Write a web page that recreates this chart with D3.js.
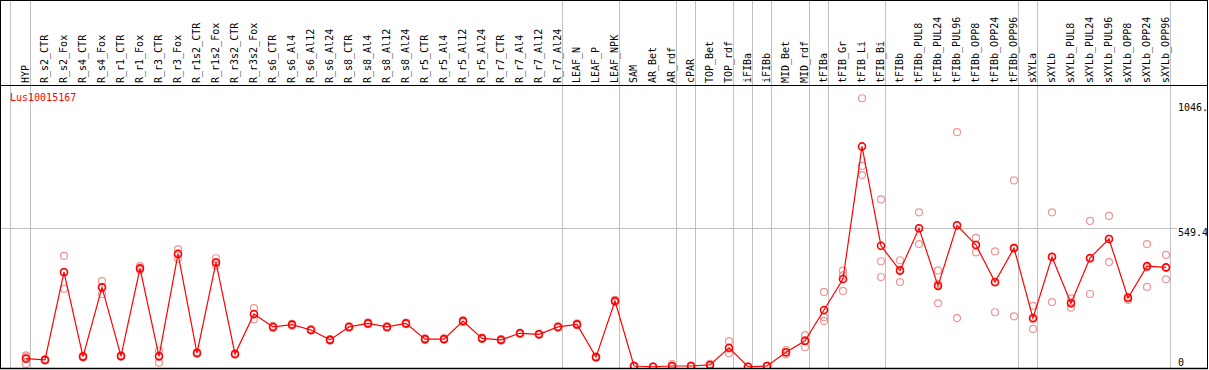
<!DOCTYPE html>
<html>
<head>
<meta charset="utf-8">
<script src="https://cdn.jsdelivr.net/npm/d3@7"></script>
<style>
html, body { margin: 0; padding: 0; background: #fff; }
svg { display: block; }
text { font-family: "DejaVu Sans Mono", "Liberation Mono", monospace; font-size: 10px; }
</style>
</head>
<body>
<svg id="chart" width="1209" height="370"></svg>
<script>
const geneName = "Lus10015167";
const categories = ["HYP","R_s2_CTR","R_s2_Fox","R_s4_CTR","R_s4_Fox","R_r1_CTR","R_r1_Fox","R_r3_CTR","R_r3_Fox","R_r1s2_CTR","R_r1s2_Fox","R_r3s2_CTR","R_r3s2_Fox","R_s6_CTR","R_s6_Al4","R_s6_Al12","R_s6_Al24","R_s8_CTR","R_s8_Al4","R_s8_Al12","R_s8_Al24","R_r5_CTR","R_r5_Al4","R_r5_Al12","R_r5_Al24","R_r7_CTR","R_r7_Al4","R_r7_Al12","R_r7_Al24","LEAF_N","LEAF_P","LEAF_NPK","SAM","AR_Bet","AR_rdf","cPAR","TOP_Bet","TOP_rdf","iFIBa","iFIBb","MID_Bet","MID_rdf","tFIBa","tFIB_Gr","tFIB_Li","tFIB_Bi","tFIBb","tFIBb_PUL8","tFIBb_PUL24","tFIBb_PUL96","tFIBb_OPP8","tFIBb_OPP24","tFIBb_OPP96","sXYLa","sXYLb","sXYLb_PUL8","sXYLb_PUL24","sXYLb_PUL96","sXYLb_OPP8","sXYLb_OPP24","sXYLb_OPP96"];
const meanValues = [33,28,374,41,314,43,389,42,446,55,413,51,209,158,167,146,107,158,172,158,172,110,110,181,113,107,133,129,158,168,39,260,4,1,4,4,8,76,1,4,58,103,225,347,870,478,380,547,320,559,481,335,469,193,434,252,430,505,272,398,393];
const rep1 = [41,30,438,44,339,46,398,64,464,59,429,54,232,162,170,149,110,161,176,161,175,113,113,185,116,110,136,132,161,172,42,265,6,2,11,6,12,102,2,6,67,126,296,380,1060,661,421,610,381,926,509,456,736,241,610,271,576,596,277,485,442];
const rep2 = [12,26,309,37,287,41,383,17,427,52,401,49,188,154,163,143,104,155,169,155,169,107,108,178,110,104,130,126,155,165,36,256,2,0,0,2,5,54,0,2,50,78,196,300,793,417,335,485,251,193,452,216,200,150,256,234,288,414,264,316,346];
const rep3 = [46,28,375,42,316,42,386,45,447,54,409,50,207,158,168,146,107,158,171,158,172,110,109,180,113,107,133,129,158,167,39,259,4,1,1,4,7,72,1,4,57,105,181,361,757,355,384,546,328,558,482,333,471,188,436,251,426,505,275,393,391];
const groupEnds = ["HYP","R_r7_Al24","LEAF_NPK","AR_rdf","cPAR","TOP_rdf","iFIBa","iFIBb","MID_rdf","tFIBa","tFIB_Bi","tFIBb_OPP96","sXYLa","sXYLb_OPP96"];
const yTickValues = [1046, 549.4, 0];
const yTickLabels = ["1046.", "549.4", "0"];

const W = 1209, H = 370;
const headerBottom = 85, plotBottom = 368, rightEdge = 1207;
const svg = d3.select("#chart");

const x = d3.scalePoint().domain(categories).range([26, 1166]);
const step = x.step();
const y = d3.scaleLinear().domain([0, 1046]).range([367, 101.8]);

// separator lines
const sepXs = [x(categories[0]) - step + 3.5].concat(groupEnds.map(c => x(c) + 4.5));
svg.append("g").selectAll("line").data(sepXs).join("line")
  .attr("x1", d => d).attr("x2", d => d)
  .attr("y1", 0).attr("y2", plotBottom)
  .attr("stroke", "#c0c0c0").attr("stroke-width", 1);

// horizontal reference line at middle tick
svg.append("line")
  .attr("x1", 0).attr("x2", 1177)
  .attr("y1", Math.round(y(549.4)) + 0.5).attr("y2", Math.round(y(549.4)) + 0.5)
  .attr("stroke", "#c0c0c0").attr("stroke-width", 1);

// header labels
svg.append("g").selectAll("text").data(categories).join("text")
  .attr("transform", d => `translate(${x(d) + 3},83) rotate(-90)`)
  .attr("text-anchor", "start")
  .attr("fill", "#000")
  .text(d => d);

// gene name
svg.append("text").attr("x", 10).attr("y", 101).attr("fill", "#ff0000").text(geneName);

// right axis tick labels
const tickTop = [y(1046) + 1.5, y(549.4) + 0.6, 359];
svg.append("g").selectAll("text").data(yTickValues).join("text")
  .attr("x", 1178)
  .attr("y", (d, i) => tickTop[i])
  .attr("dy", "0.73em")
  .attr("fill", "#000")
  .text((d, i) => yTickLabels[i]);

// clip for plot
svg.append("clipPath").attr("id", "plotClip").append("rect")
  .attr("x", 1).attr("y", headerBottom + 1).attr("width", rightEdge - 1).attr("height", plotBottom - headerBottom - 1);

const plot = svg.append("g").attr("clip-path", "url(#plotClip)");

// replicate circles
const reps = [];
categories.forEach((c, i) => { [rep1, rep2, rep3].forEach(r => reps.push({c, v: r[i]})); });
plot.append("g").selectAll("circle").data(reps).join("circle")
  .attr("cx", d => x(d.c)).attr("cy", d => y(d.v)).attr("r", 3.5)
  .attr("fill", "none").attr("stroke", "#ef9595").attr("stroke-width", 1.2);

// mean line
const meanData = categories.map((c, i) => ({c, v: meanValues[i]}));
plot.append("path").datum(meanData)
  .attr("d", d3.line().x(d => x(d.c)).y(d => y(d.v)))
  .attr("fill", "none").attr("stroke", "#ff0000").attr("stroke-width", 1.2);

plot.append("g").selectAll("circle").data(meanData).join("circle")
  .attr("cx", d => x(d.c)).attr("cy", d => y(d.v)).attr("r", 3.5)
  .attr("fill", "none").attr("stroke", "#ff0000").attr("stroke-width", 1.6);

// borders
svg.append("line").attr("x1", 0).attr("x2", rightEdge + 1).attr("y1", 0.5).attr("y2", 0.5).attr("stroke", "#000");
svg.append("line").attr("x1", 0).attr("x2", rightEdge + 1).attr("y1", headerBottom + 0.5).attr("y2", headerBottom + 0.5).attr("stroke", "#000");
svg.append("line").attr("x1", 0).attr("x2", rightEdge + 1).attr("y1", plotBottom + 0.5).attr("y2", plotBottom + 0.5).attr("stroke", "#000").attr("stroke-width", 1.5);
svg.append("line").attr("x1", 0.5).attr("x2", 0.5).attr("y1", 0).attr("y2", plotBottom + 1).attr("stroke", "#000");
svg.append("line").attr("x1", rightEdge + 0.5).attr("x2", rightEdge + 0.5).attr("y1", 0).attr("y2", plotBottom + 1).attr("stroke", "#000");
</script>
</body>
</html>
